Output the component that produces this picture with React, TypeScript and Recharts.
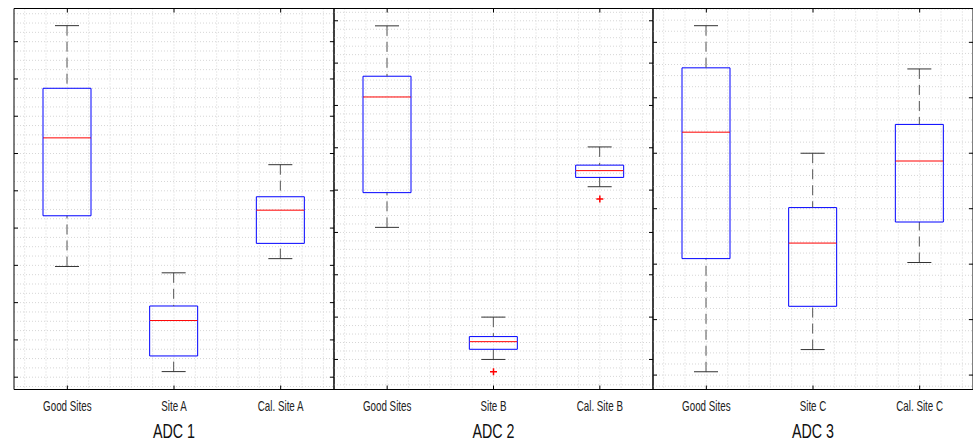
import React from "react";
import {Bar, CartesianGrid, ComposedChart, Line, XAxis, YAxis} from "recharts";

const adc1Labels = ["Good Sites", "Site A", "Cal. Site A"];
const adc2Labels = ["Good Sites", "Site B", "Cal. Site B"];
const adc3Labels = ["Good Sites", "Site C", "Cal. Site C"];

// each box: [min, q1, median, q3, max]
const adc1Stats = [
    [2.97, 4.33, 6.42, 7.75, 9.43],
    [0.15, 0.57, 1.52, 1.91, 2.80],
    [3.18, 3.59, 4.48, 4.84, 5.70],
];
const adc2Stats = [
    [3.12, 3.94, 6.20, 6.69, 7.88],
    [0.0, 0.24, 0.42, 0.54, 1.0],
    [4.08, 4.30, 4.46, 4.59, 5.02],
];
const adc3Stats = [
    [0.06, 2.10, 4.38, 5.54, 6.30],
    [0.46, 1.24, 2.38, 3.02, 4.00],
    [2.03, 2.76, 3.86, 4.52, 5.52],
];

const adc1Outliers = [null, null, null];
const adc2Outliers = [null, -0.29, 3.79];
const adc3Outliers = [null, null, null];

const adc1Ticks = [0, 1, 2, 3, 4, 5, 6, 7, 8, 9];
const adc2Ticks = [0, 1, 2, 3, 4, 5, 6, 7, 8];
const adc3Ticks = [0, 1, 2, 3, 4, 5, 6];

const FONT = "'Liberation Sans', Arial, sans-serif";
const BOX = "#0000ff";
const MED = "#ff0000";
const WHISK = "#555";
const CAP = 12;

const Hidden = () => <g/>;
const NoTick = () => <g/>;

// condensed label under each box
const CatTick = (p: any) => (
    <text transform={`translate(${p.x},${p.y + 10}) scale(0.7,1)`} textAnchor="middle"
          fontSize={14} fontFamily={FONT} fill="#222">
        {p.payload.value}
    </text>
);

const TitleLabel = (p: any) => {
    const vb = p.viewBox;
    return (
        <text transform={`translate(${vb.x + vb.width / 2},${vb.y + vb.height - 4}) scale(0.68,1)`}
              textAnchor="middle" fontSize={21} fontFamily={FONT} fill="#111">
            {p.value}
        </text>
    );
};

const LowWhisker = (p: any) => {
    const cx = p.x + p.width / 2;
    const bottom = p.y + p.height;
    return (
        <g>
            <line x1={cx} y1={bottom} x2={cx} y2={p.y} stroke={WHISK} strokeDasharray="10 6"/>
            <line x1={cx - CAP} y1={bottom} x2={cx + CAP} y2={bottom} stroke="#333"/>
        </g>
    );
};

const HighWhisker = (p: any) => {
    const cx = p.x + p.width / 2;
    return (
        <g>
            <line x1={cx} y1={p.y} x2={cx} y2={p.y + p.height} stroke={WHISK} strokeDasharray="10 6"/>
            <line x1={cx - CAP} y1={p.y} x2={cx + CAP} y2={p.y} stroke="#333"/>
        </g>
    );
};

const LowBox = (p: any) => {
    const {x, y, width: w, height: h} = p;
    return (
        <g>
            <path d={`M${x},${y} L${x},${y + h} L${x + w},${y + h} L${x + w},${y}`} fill="none" stroke={BOX}/>
            <line x1={x} y1={y} x2={x + w} y2={y} stroke={MED}/>
        </g>
    );
};

const HighBox = (p: any) => {
    const {x, y, width: w, height: h} = p;
    return <path d={`M${x},${y + h} L${x},${y} L${x + w},${y} L${x + w},${y + h}`} fill="none" stroke={BOX}/>;
};

const PlusDot = (p: any) => {
    if (p.value == null || p.cy == null || isNaN(p.cy)) return null;
    return (
        <g>
            <line x1={p.cx - 3.5} y1={p.cy} x2={p.cx + 3.5} y2={p.cy} stroke={MED} strokeWidth={1.5}/>
            <line x1={p.cx} y1={p.cy - 3.5} x2={p.cx} y2={p.cy + 3.5} stroke={MED} strokeWidth={1.5}/>
        </g>
    );
};

interface PanelProps {
    title: string;
    labels: string[];
    stats: number[][];
    outliers: (number | null)[];
    ticks: number[];
    domain: [number, number];
    minorStep: number;
    plotLeft: number;
    plotWidth: number;
}

function Panel({title, labels, stats, outliers, ticks, domain, minorStep, plotLeft, plotWidth}: PanelProps) {
    const rows = labels.map((name, i) => {
        const [mn, q1, md, q3, mx] = stats[i];
        return {name, base: mn, lowW: q1 - mn, lowBox: md - q1, highBox: q3 - md, highW: mx - q3, outlier: outliers[i]};
    });

    const minors: number[] = [];
    for (let v = Math.ceil(domain[0] / minorStep) * minorStep; v < domain[1]; v += minorStep) minors.push(v);

    const hGen = ({yAxis, offset}: any) =>
        minors.map(v => yAxis && typeof yAxis.scale === "function"
            ? yAxis.scale(v)
            : offset.top + (domain[1] - v) / (domain[1] - domain[0]) * offset.height);
    const vGen = ({offset}: any) =>
        Array.from({length: 15}, (_, j) => offset.left + offset.width * (j + 0.5) / 15);

    const margin = 5;
    const frame = {stroke: "#000"};
    return (
        <div style={{position: "absolute", left: plotLeft - margin, top: 0}}>
            <ComposedChart width={plotWidth + 2 * margin} height={442} data={rows}
                           margin={{top: 8.5, right: margin, bottom: 0, left: margin}}>
                <CartesianGrid stroke="#d6d6d6" strokeDasharray="1 2"
                               horizontalCoordinatesGenerator={hGen}
                               verticalCoordinatesGenerator={vGen}/>
                <XAxis dataKey="name" height={52.5} interval={0} tickLine={false} axisLine={false}
                       tickSize={4} tickMargin={7} tick={<CatTick/>}
                       label={{value: title, content: <TitleLabel/>}}/>
                <XAxis xAxisId="top" dataKey="name" orientation="top" mirror interval={0} tick={<NoTick/>}
                       tickSize={4} axisLine={frame} tickLine={frame}/>
                <XAxis xAxisId="bot" dataKey="name" orientation="bottom" mirror interval={0} tick={<NoTick/>}
                       tickSize={4} axisLine={frame} tickLine={frame}/>
                <YAxis type="number" domain={domain} ticks={ticks} allowDataOverflow mirror interval={0}
                       tick={<NoTick/>} tickSize={4} axisLine={frame} tickLine={frame}/>
                <YAxis yAxisId="right" orientation="right" type="number" domain={domain} ticks={ticks}
                       allowDataOverflow mirror interval={0} tick={<NoTick/>} tickSize={4}
                       axisLine={frame} tickLine={frame}/>
                <Bar dataKey="base" stackId="b" barSize={48} shape={<Hidden/>} isAnimationActive={false}/>
                <Bar dataKey="lowW" stackId="b" barSize={48} shape={<LowWhisker/>} isAnimationActive={false}/>
                <Bar dataKey="lowBox" stackId="b" barSize={48} shape={<LowBox/>} isAnimationActive={false}/>
                <Bar dataKey="highBox" stackId="b" barSize={48} shape={<HighBox/>} isAnimationActive={false}/>
                <Bar dataKey="highW" stackId="b" barSize={48} shape={<HighWhisker/>} isAnimationActive={false}/>
                <Line dataKey="outlier" stroke="none" dot={<PlusDot/>} activeDot={false} isAnimationActive={false}/>
            </ComposedChart>
        </div>
    );
}

export default function App() {
    return (
        <div style={{position: "absolute", left: 0, top: 0, width: 973, height: 442, background: "#fff", overflow: "hidden"}}>
            <Panel title="ADC 1" labels={adc1Labels} stats={adc1Stats} outliers={adc1Outliers} ticks={adc1Ticks}
                   domain={[-0.33, 9.89]} minorStep={0.25} plotLeft={13.5} plotWidth={320}/>
            <Panel title="ADC 2" labels={adc2Labels} stats={adc2Stats} outliers={adc2Outliers} ticks={adc2Ticks}
                   domain={[-0.71, 8.29]} minorStep={0.2} plotLeft={333.5} plotWidth={319}/>
            <Panel title="ADC 3" labels={adc3Labels} stats={adc3Stats} outliers={adc3Outliers} ticks={adc3Ticks}
                   domain={[-0.26, 6.61]} minorStep={0.2} plotLeft={652.5} plotWidth={320}/>
        </div>
    );
}
